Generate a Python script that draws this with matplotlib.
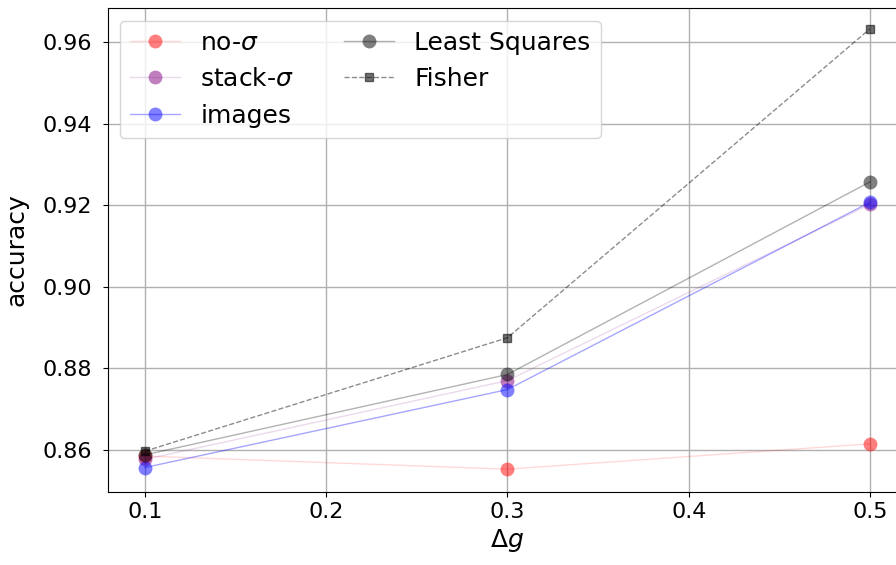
import matplotlib.pyplot as plt

# data
dg = [0.1, 0.3, 0.5]
no_sigma = [0.8585, 0.8553, 0.8615]
stack_sigma = [0.8577, 0.8770, 0.9202]
images = [0.8557, 0.8748, 0.9207]
least_squares = [0.8588, 0.8785, 0.9257]
fisher = [0.8597, 0.8875, 0.9632]

fig = plt.figure(figsize=(8.96, 5.65), dpi=100)
ax = fig.add_axes([0.1205, 0.1292, 0.8917, 0.8566])


def series(y, rgb, line_a, label):
    # translucent markers, fainter connecting line
    ax.plot(dg, y, '-o', color=rgb + (line_a,), markerfacecolor=rgb + (0.5,),
            markeredgecolor=rgb + (0.0,), ms=10, lw=1, label=label)


series(no_sigma, (1, 0, 0), 0.15, r'no-$\sigma$')
series(stack_sigma, (0.5, 0, 0.5), 0.15, r'stack-$\sigma$')
series(images, (0, 0, 1), 0.35, 'images')
series(least_squares, (0, 0, 0), 0.3, 'Least Squares')
ax.plot(dg, fisher, '--s', color=(0, 0, 0, 0.45), markerfacecolor=(0, 0, 0, 0.55),
        markeredgecolor=(0, 0, 0, 0.55), ms=6, lw=1, label='Fisher')

ax.set_xlim(0.0796, 0.5204)
ax.set_ylim(0.8497, 0.9683)
ax.set_xticks([0.1, 0.2, 0.3, 0.4, 0.5])
ax.set_yticks([0.86, 0.88, 0.90, 0.92, 0.94, 0.96])
ax.tick_params(labelsize=16)
ax.tick_params(axis='y', pad=8)
ax.grid(True, color='#b0b0b0', lw=1)
ax.set_xlabel(r'$\Delta g$', fontsize=18)
ax.set_ylabel('accuracy', fontsize=18, labelpad=10)
ax.legend(ncol=2, fontsize=18, loc='upper left')

fig.savefig('out.png', dpi=100)
